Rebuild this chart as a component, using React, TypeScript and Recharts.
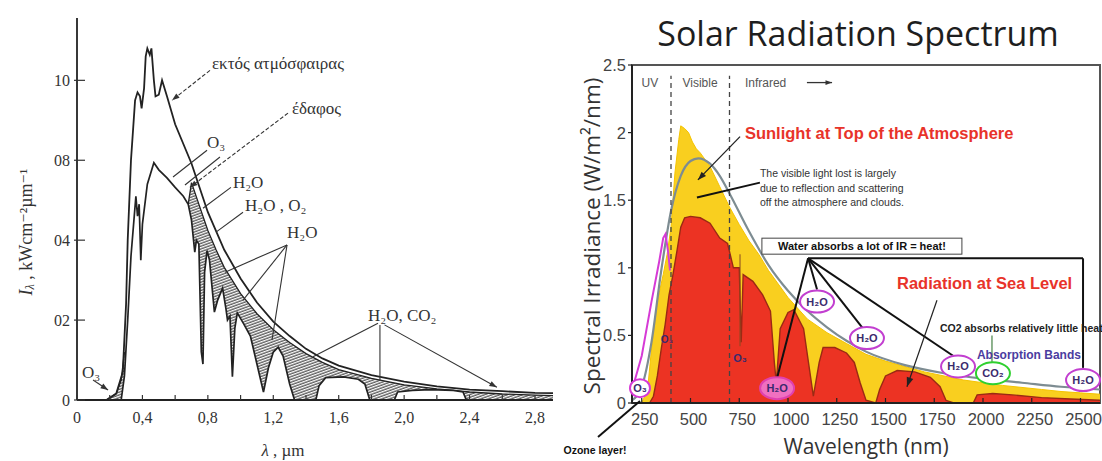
import React from "react";
import {
  ComposedChart,
  Area,
  Line,
  XAxis,
  YAxis,
  ReferenceLine,
  ReferenceDot,
  ReferenceArea,
} from "recharts";

type Pt = [number, number];

// ---------- left chart: wavelength (µm) vs I (1 unit per labelled tick) ----------
const outerAtmosphere: Pt[] = [
  [0.18, 0], [0.24, 0.08], [0.28, 0.35], [0.3, 1.2], [0.31, 2.0], [0.33, 3.0],
  [0.355, 3.75], [0.37, 3.85], [0.385, 3.8], [0.395, 3.65], [0.41, 3.9],
  [0.42, 4.3], [0.43, 4.4], [0.445, 4.32], [0.455, 4.4], [0.47, 4.0],
  [0.48, 3.8], [0.5, 3.82], [0.52, 4.0], [0.55, 3.8], [0.6, 3.45], [0.7, 2.96],
  [0.8, 2.35], [0.9, 1.88], [1.0, 1.52], [1.1, 1.22], [1.2, 0.98], [1.3, 0.8],
  [1.4, 0.64], [1.5, 0.52], [1.6, 0.43], [1.8, 0.31], [2.0, 0.23], [2.2, 0.17],
  [2.4, 0.13], [2.6, 0.11], [2.8, 0.09], [2.91, 0.085],
];

const groundLevel: Pt[] = [
  [0.27, 0], [0.29, 0.3], [0.31, 1.0], [0.33, 1.8], [0.35, 2.3], [0.36, 2.55],
  [0.37, 2.3], [0.38, 2.45], [0.39, 1.75], [0.4, 2.2], [0.43, 2.7], [0.47, 2.97],
  [0.5, 2.88], [0.55, 2.78], [0.6, 2.66], [0.65, 2.55], [0.68, 2.45], [0.7, 2.25],
  [0.72, 1.85], [0.73, 2.0], [0.745, 1.95], [0.76, 0.6], [0.77, 0.45], [0.78, 1.6],
  [0.795, 1.87], [0.81, 1.75], [0.84, 1.1], [0.86, 1.25], [0.89, 1.4], [0.91, 1.15],
  [0.92, 1.0], [0.935, 1.05], [0.95, 0.29], [0.965, 0.9], [0.98, 1.09], [1.02, 0.95],
  [1.06, 0.8], [1.1, 0.45], [1.14, 0.1], [1.17, 0.4], [1.2, 0.6], [1.23, 0.66],
  [1.26, 0.55], [1.3, 0.2], [1.33, 0], [1.46, 0], [1.48, 0.18], [1.52, 0.28],
  [1.63, 0.29], [1.72, 0.26], [1.76, 0.2], [1.79, 0], [1.94, 0], [1.96, 0.1],
  [2.05, 0.12], [2.16, 0.13], [2.3, 0.12], [2.36, 0.1], [2.38, 0], [2.91, 0],
];

const ozoneBand: Pt[] = [[0.18, 0], [0.24, 0.08], [0.27, 0.25], [0.29, 0.6]];

const clearSkyGround: Pt[] = [
  [0.68, 2.45], [0.7, 2.72], [0.75, 2.42], [0.8, 2.12], [0.85, 1.88], [0.9, 1.66],
  [1.0, 1.33], [1.1, 1.08], [1.2, 0.88], [1.3, 0.72], [1.4, 0.58], [1.5, 0.47],
  [1.6, 0.38], [1.8, 0.27], [2.0, 0.19], [2.2, 0.14], [2.4, 0.1], [2.6, 0.075],
  [2.8, 0.06], [2.91, 0.055],
];

const leftXTicks = [0, 0.2, 0.4, 0.6, 0.8, 1.0, 1.2, 1.4, 1.6, 1.8, 2.0, 2.2, 2.4, 2.6, 2.8];
const leftXTickLabels = ["0", "", "0,4", "", "0,8", "", "1,2", "", "1,6", "", "2,0", "", "2,4", "", "2,8"];
const leftYTicks = [0, 1, 2, 3, 4];
const leftYTickLabels = ["0", "02", "04", "08", "10"];

// ---------- right chart: wavelength (nm) vs W/m2/nm ----------
const topOfAtmosphere: Pt[] = [
  [250, 0], [280, 0.1], [300, 0.4], [330, 0.75], [360, 0.95], [380, 1.1],
  [400, 1.3], [420, 1.7], [440, 1.95], [450, 2.05], [470, 2.03], [490, 2.0],
  [510, 1.93], [530, 1.88], [550, 1.85], [600, 1.75], [650, 1.6], [700, 1.45],
  [750, 1.32], [800, 1.2], [850, 1.1], [900, 0.98], [950, 0.88], [1000, 0.78],
  [1100, 0.62], [1200, 0.52], [1300, 0.44], [1400, 0.36], [1500, 0.31],
  [1600, 0.27], [1700, 0.23], [1800, 0.2], [1900, 0.17], [2000, 0.15],
  [2100, 0.13], [2200, 0.115], [2300, 0.1], [2400, 0.085], [2500, 0.075], [2600, 0.065],
];

const seaLevel: Pt[] = [
  [290, 0], [310, 0.05], [330, 0.2], [350, 0.4], [370, 0.58], [390, 0.8],
  [410, 0.95], [430, 1.12], [450, 1.3], [470, 1.37], [500, 1.38], [550, 1.37],
  [600, 1.33], [650, 1.22], [690, 1.18], [720, 1.0], [750, 1.0], [760, 0.45],
  [770, 0.95], [820, 0.9], [870, 0.8], [910, 0.68], [930, 0.3], [940, 0.15],
  [960, 0.55], [1000, 0.67], [1030, 0.69], [1080, 0.55], [1110, 0.25], [1130, 0.05],
  [1160, 0.3], [1180, 0.41], [1240, 0.41], [1300, 0.37], [1340, 0.3], [1370, 0.15],
  [1400, 0.02], [1450, 0], [1470, 0.1], [1500, 0.2], [1560, 0.24], [1650, 0.23],
  [1730, 0.19], [1780, 0.12], [1810, 0.02], [1850, 0], [1950, 0], [1970, 0.06],
  [2050, 0.07], [2150, 0.06], [2300, 0.04], [2450, 0.03], [2600, 0.02],
];

const blackbody5250K: Pt[] = [
  [200, 0.02], [250, 0.12], [300, 0.45], [350, 0.98], [400, 1.42], [450, 1.68],
  [500, 1.79], [540, 1.81], [600, 1.77], [650, 1.68], [700, 1.55], [800, 1.27],
  [900, 1.02], [1000, 0.83], [1100, 0.68], [1200, 0.56], [1300, 0.46], [1400, 0.38],
  [1600, 0.28], [1800, 0.22], [2000, 0.18], [2200, 0.15], [2400, 0.12], [2600, 0.1],
];

const uvOutline: Pt[] = [
  [205, 0.12], [250, 0.35], [300, 0.75], [340, 1.05], [360, 1.22], [372, 1.25],
  [385, 1.12], [395, 0.98],
];

const rightXTicks = [250, 500, 750, 1000, 1250, 1500, 1750, 2000, 2250, 2500];
const rightYTicks = [0, 0.5, 1, 1.5, 2, 2.5];
const rightYTickLabels = ["0", "0.5", "1", "1.5", "2", "2.5"];

const rows = (pts: Pt[]) => pts.map(([x, y]) => ({ x, y }));
const hatchRows = [...rows(ozoneBand), { x: 0.3, y: null }, ...rows(clearSkyGround)];

const SERIF = '"Liberation Serif", "DejaVu Serif", serif';
const SANS = '"Liberation Sans", Arial, sans-serif';

// --- annotation shapes ---
const arrow =
  (color: string, width: number, dash?: string, head = false, hs = 8) =>
  (p: any) => {
    const { x1, y1, x2, y2 } = p;
    let tip = null;
    if (head) {
      const a = Math.atan2(y2 - y1, x2 - x1);
      const pts = [
        [x2, y2],
        [x2 - hs * Math.cos(a - 0.35), y2 - hs * Math.sin(a - 0.35)],
        [x2 - hs * Math.cos(a + 0.35), y2 - hs * Math.sin(a + 0.35)],
      ]
        .map((q) => q.join(","))
        .join(" ");
      tip = <polygon points={pts} fill={color} />;
    }
    return (
      <g>
        <line x1={x1} y1={y1} x2={x2} y2={y2} stroke={color} strokeWidth={width} strokeDasharray={dash} />
        {tip}
      </g>
    );
  };

const label =
  (text: string, font: string, size: number, color: string, weight = 400, anchor = "start") =>
  (p: any) => (
    <text
      x={p.cx}
      y={p.cy}
      fontFamily={font}
      fontSize={size}
      fill={color}
      fontWeight={weight}
      textAnchor={anchor}
      dominantBaseline="central"
    >
      {text}
    </text>
  );

const bubble =
  (text: string, stroke: string, fill = "white", rx = 17, ry = 11) =>
  (p: any) => (
    <g>
      <ellipse cx={p.cx} cy={p.cy} rx={rx} ry={ry} fill={fill} stroke={stroke} strokeWidth={2} />
      <text
        x={p.cx}
        y={p.cy}
        fontFamily={SANS}
        fontSize={11}
        fontWeight={700}
        fill="#3b2a6e"
        textAnchor="middle"
        dominantBaseline="central"
      >
        {text}
      </text>
    </g>
  );

const boxedLabel = (text: string) => (p: any) => (
  <g>
    <rect x={p.cx - 100} y={p.cy - 8} width={200} height={16} fill="white" stroke="#444" strokeWidth={1} />
    <text
      x={p.cx}
      y={p.cy}
      fontFamily={SANS}
      fontSize={11}
      fontWeight={700}
      fill="#111"
      textAnchor="middle"
      dominantBaseline="central"
    >
      {text}
    </text>
  </g>
);

// --- ticks ---
const LeftXTick = (p: any) => (
  <g>
    <line x1={p.x} x2={p.x} y1={p.y} y2={p.y - 5} stroke="#333" strokeWidth={1.2} />
    <text x={p.x} y={p.y + 23} textAnchor="middle" fontFamily={SERIF} fontSize={16} fill="#333">
      {leftXTickLabels[p.index]}
    </text>
  </g>
);

const LeftYTick = (p: any) => (
  <g>
    <line x1={p.x - 3} x2={p.x + 8} y1={p.y} y2={p.y} stroke="#333" strokeWidth={1.2} />
    <text x={p.x - 7} y={p.y} textAnchor="end" dominantBaseline="central" fontFamily={SERIF} fontSize={16} fill="#333">
      {leftYTickLabels[p.index]}
    </text>
  </g>
);

const RightXTick = (p: any) => (
  <g>
    <line x1={p.x} x2={p.x} y1={p.y} y2={p.y - 5} stroke="#222" strokeWidth={1.2} />
    <text x={p.x + 3} y={p.y + 22} textAnchor="middle" fontFamily={SANS} fontSize={16.5} fill="#444">
      {p.payload.value}
    </text>
  </g>
);

const RightYTick = (p: any) => (
  <g>
    <line x1={p.x - 4} x2={p.x} y1={p.y} y2={p.y} stroke="#222" strokeWidth={1.2} />
    <text x={p.x - 6} y={p.y} textAnchor="end" dominantBaseline="central" fontFamily={SANS} fontSize={16.5} fill="#444">
      {rightYTickLabels[p.index]}
    </text>
  </g>
);

const seg = (a: Pt, b: Pt) => [
  { x: a[0], y: a[1] },
  { x: b[0], y: b[1] },
];

function LeftChart() {
  const ink = "#222";
  const lines: [Pt, Pt, string | undefined, boolean][] = [
    [[0.813, 4.125], [0.581, 3.75], "4 2", true],
    [[1.29, 3.59], [0.69, 2.66], "4 2", true],
    [[0.795, 3.125], [0.587, 2.79], undefined, false],
    [[0.874, 3.04], [0.66, 2.69], undefined, false],
    [[0.941, 2.66], [0.77, 2.4], undefined, false],
    [[1.015, 2.35], [0.85, 2.1], undefined, false],
    [[1.284, 1.94], [0.905, 1.6], undefined, false],
    [[1.284, 1.94], [1.015, 1.25], undefined, false],
    [[1.284, 1.94], [1.192, 0.75], undefined, false],
    [[1.84, 0.96], [1.443, 0.54], undefined, false],
    [[1.852, 0.94], [1.852, 0.25], undefined, false],
    [[1.88, 0.94], [2.567, 0.16], undefined, true],
    [[0.098, 0.25], [0.19, 0.125], undefined, true],
  ];
  const texts: [number, number, string][] = [
    [0.825, 4.21, "εκτός ατμόσφαιρας"],
    [1.314, 3.65, "έδαφος"],
    [0.795, 3.225, "O₃"],
    [0.953, 2.725, "H₂O"],
    [1.027, 2.44, "H₂O , O₂"],
    [1.284, 2.1, "H₂O"],
    [1.779, 1.06, "H₂O, CO₂"],
    [0.03, 0.34, "O₃"],
  ];
  return (
    <ComposedChart width={570} height={461} margin={{ top: 18, right: 17, bottom: 31, left: 37 }}>
      <defs>
        <pattern id="hatch" width="2.6" height="2.6" patternUnits="userSpaceOnUse" patternTransform="rotate(-20)">
          <line x1="0" y1="1" x2="2.6" y2="1" stroke="#222" strokeWidth="1" />
        </pattern>
      </defs>
      <XAxis
        type="number"
        dataKey="x"
        domain={[0, 2.91]}
        ticks={leftXTicks}
        interval={0}
        tick={<LeftXTick />}
        tickSize={0}
        tickMargin={0}
        tickLine={false}
        height={30}
        stroke={ink}
        strokeWidth={1.8}
        allowDataOverflow
      />
      <YAxis
        type="number"
        domain={[0, 4.78]}
        ticks={leftYTicks}
        interval={0}
        tick={<LeftYTick />}
        tickSize={0}
        tickMargin={0}
        tickLine={false}
        width={40}
        stroke={ink}
        strokeWidth={1.8}
        allowDataOverflow
      />
      <Area
        data={hatchRows}
        dataKey="y"
        type="linear"
        stroke={ink}
        strokeWidth={1.3}
        fill="url(#hatch)"
        fillOpacity={1}
        isAnimationActive={false}
        connectNulls={false}
        dot={false}
        activeDot={false}
      />
      <Area
        data={rows(groundLevel)}
        dataKey="y"
        type="linear"
        stroke={ink}
        strokeWidth={1.7}
        fill="#ffffff"
        fillOpacity={1}
        isAnimationActive={false}
        dot={false}
        activeDot={false}
      />
      <Line
        data={rows(outerAtmosphere)}
        dataKey="y"
        type="linear"
        stroke={ink}
        strokeWidth={1.8}
        dot={false}
        activeDot={false}
        isAnimationActive={false}
      />
      {lines.map(([a, b, dash, head], i) => (
        <ReferenceLine key={"l" + i} segment={seg(a, b)} ifOverflow="visible" shape={arrow("#333", 1.1, dash, head, 8)} />
      ))}
      {texts.map(([x, y, t], i) => (
        <ReferenceDot key={"t" + i} x={x} y={y} r={0} ifOverflow="visible" shape={label(t, SERIF, 17, "#333")} />
      ))}
    </ComposedChart>
  );
}

function RightChart() {
  const fanFrom: Pt = [1103, 1.07];
  const fanTo: Pt[] = [
    [944, 0.185],
    [1149, 0.84],
    [1385, 0.55],
    [1856, 0.34],
    [2513, 1.07],
  ];
  const bubbles: [number, number, string, string, string][] = [
    [1149, 0.75, "H₂O", "#c23fd0", "white"],
    [1405, 0.48, "H₂O", "#c23fd0", "white"],
    [1872, 0.27, "H₂O", "#c23fd0", "white"],
    [2513, 0.17, "H₂O", "#c23fd0", "white"],
    [944, 0.11, "H₂O", "#e040b0", "#f070c0"],
    [2051, 0.22, "CO₂", "#2fd02f", "white"],
  ];
  return (
    <ComposedChart width={562} height={461} margin={{ top: 65, right: 2, bottom: 28, left: 52 }}>
      <XAxis
        type="number"
        dataKey="x"
        domain={[200, 2600]}
        ticks={rightXTicks}
        interval={0}
        tick={<RightXTick />}
        tickSize={0}
        tickMargin={0}
        tickLine={false}
        height={30}
        stroke="#222"
        strokeWidth={2}
        allowDataOverflow
      />
      <YAxis
        type="number"
        domain={[0, 2.5]}
        ticks={rightYTicks}
        interval={0}
        tick={<RightYTick />}
        tickSize={0}
        tickMargin={0}
        tickLine={false}
        width={40}
        stroke="#222"
        strokeWidth={2}
        allowDataOverflow
      />
      <ReferenceArea x1={200} x2={2600} y1={0} y2={2.5} fill="none" stroke="#555" strokeWidth={2} ifOverflow="visible" />
      <Area
        data={rows(topOfAtmosphere)}
        dataKey="y"
        type="linear"
        stroke="#f5c400"
        strokeWidth={1}
        fill="#f9cf1f"
        fillOpacity={1}
        isAnimationActive={false}
        dot={false}
        activeDot={false}
      />
      <Area
        data={rows(seaLevel)}
        dataKey="y"
        type="linear"
        stroke="#9a2a14"
        strokeWidth={1.4}
        fill="#ec3323"
        fillOpacity={1}
        isAnimationActive={false}
        dot={false}
        activeDot={false}
      />
      <Line
        data={rows(blackbody5250K)}
        dataKey="y"
        type="monotone"
        stroke="#7d8c92"
        strokeWidth={2.2}
        dot={false}
        activeDot={false}
        isAnimationActive={false}
      />
      <Line
        data={rows(uvOutline)}
        dataKey="y"
        type="linear"
        stroke="#d63ad6"
        strokeWidth={2}
        dot={false}
        activeDot={false}
        isAnimationActive={false}
      />
      <ReferenceLine segment={seg([400, 0], [400, 2.42])} stroke="#444" strokeWidth={1.3} strokeDasharray="5 4" ifOverflow="visible" />
      <ReferenceLine segment={seg([700, 0], [700, 2.42])} stroke="#444" strokeWidth={1.3} strokeDasharray="5 4" ifOverflow="visible" />
      <ReferenceLine segment={seg([754, 1.1], [754, 0.42])} stroke="#8a4a20" strokeWidth={1} ifOverflow="visible" />

      <ReferenceDot x={292} y={2.37} r={0} ifOverflow="visible" shape={label("UV", SANS, 12, "#555", 400, "middle")} />
      <ReferenceDot x={549} y={2.37} r={0} ifOverflow="visible" shape={label("Visible", SANS, 12, "#555", 400, "middle")} />
      <ReferenceDot x={779} y={2.37} r={0} ifOverflow="visible" shape={label("Infrared", SANS, 12, "#555")} />
      <ReferenceLine segment={seg([1097, 2.37], [1226, 2.37])} ifOverflow="visible" shape={arrow("#333", 1.3, undefined, true, 7)} />

      <ReferenceDot x={779} y={2.0} r={0} ifOverflow="visible" shape={label("Sunlight at Top of the Atmosphere", SANS, 16.5, "#e8332a", 700)} />
      <ReferenceLine segment={seg([754, 1.97], [538, 1.65])} ifOverflow="visible" shape={arrow("#222", 1.3, undefined, true, 9)} />
      <ReferenceDot x={856} y={1.7} r={0} ifOverflow="visible" shape={label("The visible light lost is largely", SANS, 10.5, "#333")} />
      <ReferenceDot x={856} y={1.59} r={0} ifOverflow="visible" shape={label("due to reflection and scattering", SANS, 10.5, "#333")} />
      <ReferenceDot x={856} y={1.49} r={0} ifOverflow="visible" shape={label("off the atmosphere and clouds.", SANS, 10.5, "#333")} />
      <ReferenceLine segment={seg([856, 1.63], [533, 1.52])} ifOverflow="visible" shape={arrow("#111", 2)} />

      {fanTo.map((t, i) => (
        <ReferenceLine key={"f" + i} segment={seg(fanFrom, t)} ifOverflow="visible" shape={arrow("#111", 2)} />
      ))}
      <ReferenceLine segment={seg([2513, 1.07], [2513, 0.26])} ifOverflow="visible" shape={arrow("#111", 2)} />
      <ReferenceDot x={1379} y={1.16} r={0} ifOverflow="visible" shape={boxedLabel("Water absorbs a lot of IR = heat!")} />

      <ReferenceDot x={1559} y={0.89} r={0} ifOverflow="visible" shape={label("Radiation at Sea Level", SANS, 16.5, "#e8332a", 700)} />
      <ReferenceLine segment={seg([1764, 0.76], [1610, 0.12])} ifOverflow="visible" shape={arrow("#222", 1.2, undefined, true, 10)} />
      <ReferenceDot x={1779} y={0.555} r={0} ifOverflow="visible" shape={label("CO2 absorbs relatively little heat", SANS, 10.5, "#222", 700)} />
      <ReferenceLine segment={seg([2046, 0.5], [2046, 0.3])} stroke="#6a9a6a" strokeWidth={1.5} ifOverflow="visible" />
      <ReferenceDot x={1969} y={0.355} r={0} ifOverflow="visible" shape={label("Absorption Bands", SANS, 12, "#4b3ca0", 700)} />

      {bubbles.map(([x, y, t, s, f], i) => (
        <ReferenceDot key={"b" + i} x={x} y={y} r={0} ifOverflow="visible" shape={bubble(t, s, f)} />
      ))}
      <ReferenceDot x={754} y={0.33} r={0} ifOverflow="visible" shape={label("O₃", SANS, 11, "#3b2a6e", 700, "middle")} />
      <ReferenceDot x={379} y={0.47} r={0} ifOverflow="visible" shape={label("O₃", SANS, 10, "#3b2a6e", 700, "middle")} />
      <ReferenceDot x={241} y={0.11} r={0} ifOverflow="visible" shape={bubble("O₃", "#d63ad6", "white", 10, 9)} />
    </ComposedChart>
  );
}

export default function App() {
  return (
    <div style={{ position: "absolute", left: 0, top: 0, width: 1102, height: 461, background: "#fff", overflow: "hidden" }}>
      <div style={{ position: "absolute", left: 0, top: 0 }}>
        <LeftChart />
      </div>
      <div style={{ position: "absolute", left: 540, top: 0 }}>
        <RightChart />
      </div>
      <svg width={1102} height={461} style={{ position: "absolute", left: 0, top: 0, pointerEvents: "none" }}>
        <text
          transform="translate(26,232) rotate(-90)"
          textAnchor="middle"
          dominantBaseline="central"
          fontFamily={SERIF}
          fontSize={18}
          fill="#333"
        >
          <tspan fontStyle="italic">I</tspan>
          <tspan fontStyle="italic" fontSize={12} dy={4}>λ</tspan>
          <tspan dy={-4}> ,  kWcm⁻²µm⁻¹</tspan>
        </text>
        <text x={283} y={450} textAnchor="middle" dominantBaseline="central" fontFamily={SERIF} fontSize={17} fill="#333">
          <tspan fontStyle="italic">λ</tspan> , µm
        </text>
        <text x={858} y={33} textAnchor="middle" dominantBaseline="central" fontFamily='"Open Sans", sans-serif' fontSize={34} fill="#1e1e1e">
          Solar Radiation Spectrum
        </text>
        <text
          transform="translate(591,236) rotate(-90)"
          textAnchor="middle"
          dominantBaseline="central"
          fontFamily='"Open Sans", sans-serif'
          fontSize={22.5}
          fill="#333"
        >
          Spectral Irradiance (W/m²/nm)
        </text>
        <text x={866} y={446} textAnchor="middle" dominantBaseline="central" fontFamily='"Open Sans", sans-serif' fontSize={21} fill="#333">
          Wavelength (nm)
        </text>
        <line x1={598} y1={437} x2={640} y2={401} stroke="#111" strokeWidth={2} />
        <text x={595} y={450} textAnchor="middle" dominantBaseline="central" fontFamily={SANS} fontSize={10.5} fontWeight={700} fill="#111">
          Ozone layer!
        </text>
      </svg>
    </div>
  );
}
